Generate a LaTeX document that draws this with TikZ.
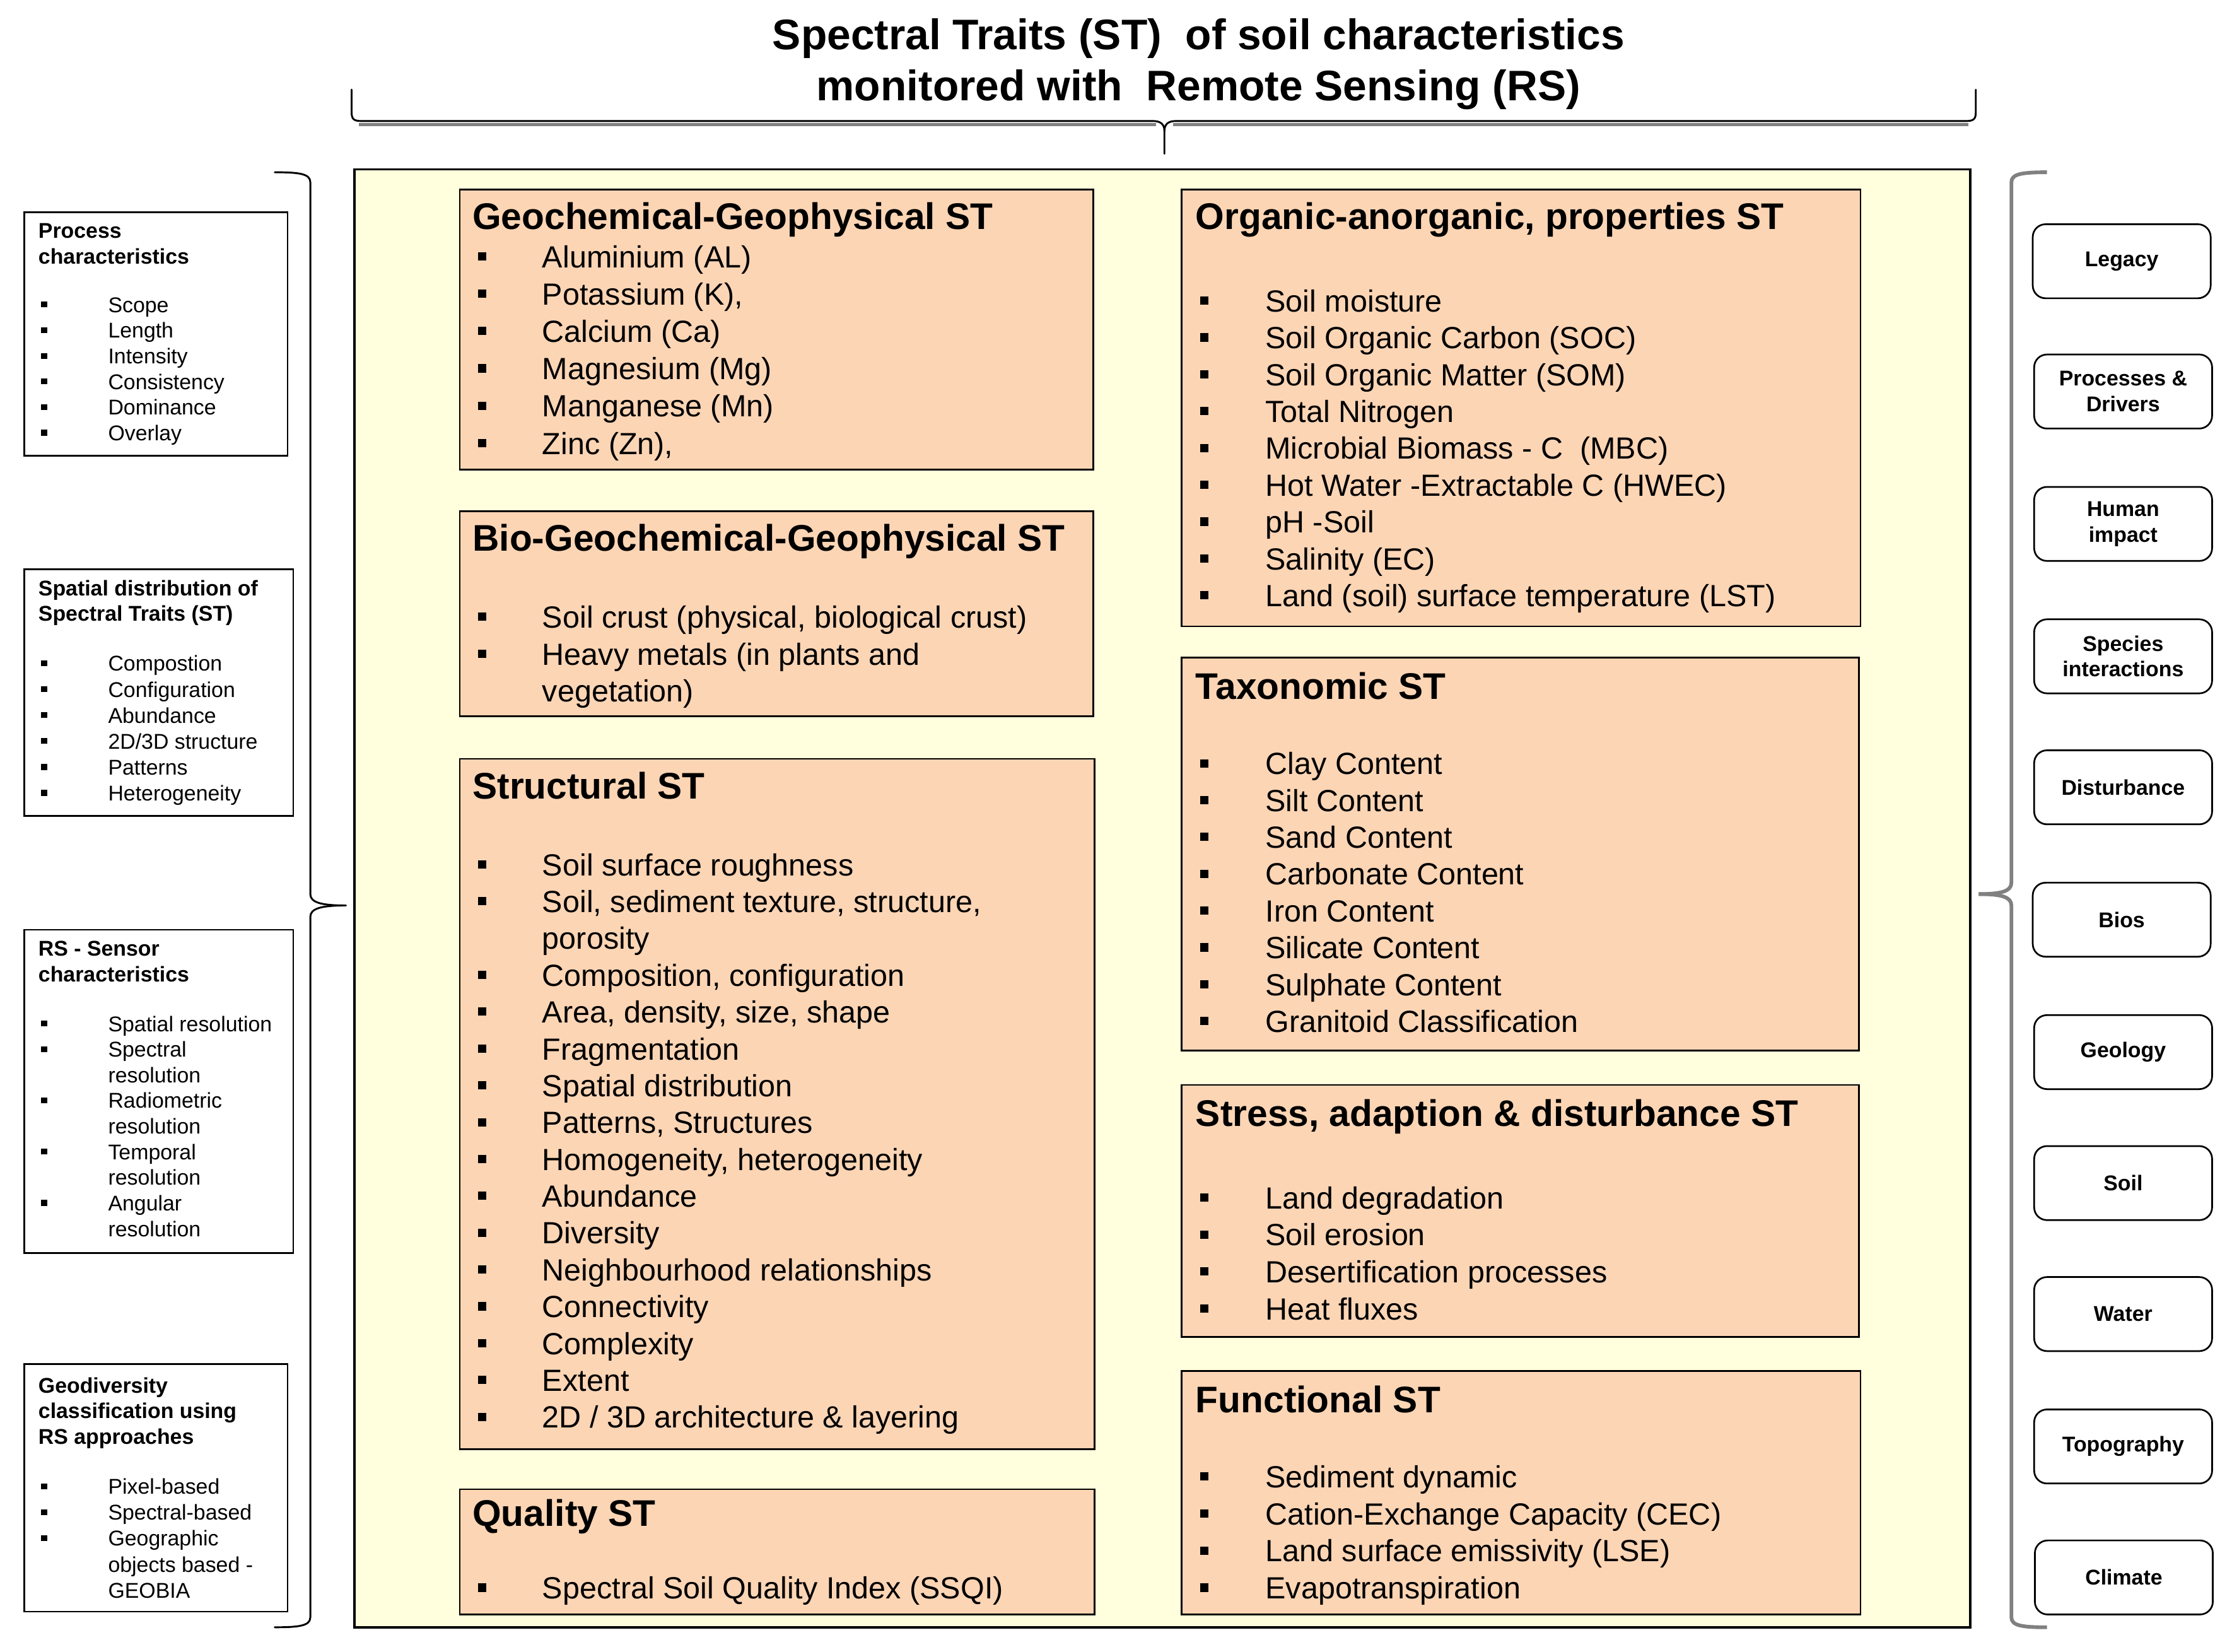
\documentclass[tikz,border=0pt]{standalone}
\usepackage{fontspec}
\setmainfont{Liberation Sans}
\definecolor{salmon}{RGB}{252,213,181}
\definecolor{paleyellow}{RGB}{255,255,221}
\definecolor{bracegray}{RGB}{128,128,128}
\newlength\bgap
\newcommand\bsq{\rule[0.23em]{0.27em}{0.27em}}
\newcommand\itm[1]{\hbox{\hbox to\bgap{\bsq\hfil}#1}}
\newcommand\cnt[1]{\hbox{\hskip\bgap #1}}
\newcommand\lns[2]{\vtop{\baselineskip=#1\lineskiplimit=-1000pt\lineskip=0pt #2}}
\newcommand\cln[1]{\hbox to 0pt{\hss #1\hss}}
\tikzset{
  salbox/.style={draw=black, line width=1.2pt, fill=salmon, inner sep=0pt, outer sep=0pt, anchor=north west},
  mainbox/.style={draw=black, line width=1.6pt, fill=paleyellow, inner sep=0pt, outer sep=0pt, anchor=north west},
  sidebox/.style={draw=black, line width=1.2pt, fill=white, inner sep=0pt, outer sep=0pt, anchor=north west},
  factor/.style={draw=black, line width=1.2pt, rounded corners=9pt, fill=white, inner sep=0pt,
     minimum width=125, minimum height=52, align=center, font=\fontsize{15}{18}\selectfont\bfseries},
  txt/.style={inner sep=0pt, outer sep=0pt, anchor=base west},
  hdr/.style={txt, font=\fontsize{26}{30}\selectfont\bfseries},
  itemtxt/.style={txt, font=\fontsize{21.5}{26}\selectfont\setlength\bgap{45pt}},
  itemtxtr/.style={txt, font=\fontsize{21.5}{26}\selectfont\setlength\bgap{46pt}},
  sidehdr/.style={txt, font=\fontsize{15}{18}\selectfont\bfseries},
  sideitm/.style={txt, font=\fontsize{15}{18}\selectfont\setlength\bgap{47pt}},
  brace/.style={line width=1.3pt, line cap=round, line join=round},
}
\begin{document}
\begin{tikzpicture}[x=1pt,y=-1pt]
\useasboundingbox (0,0) rectangle (1568,1160);

% ---------- title ----------
\node[inner sep=0pt, outer sep=0pt, anchor=base, font=\fontsize{30}{36}\selectfont\bfseries] (title) at (842,34.7)
  {\lns{36pt}{\cln{Spectral Traits (ST)\ \ of soil characteristics}\cln{monitored with\ \ Remote Sensing (RS)}}};

% top brace
\draw[bracegray, line width=2pt] (252,87.5) -- (812,87.5);
\draw[bracegray, line width=2pt] (824,87.5) -- (1383,87.5);
\draw[brace] (247,63) -- (247,79) .. controls (247,84) and (249,85) .. (254,85) -- (810,85)
   .. controls (815,85) and (818,87) .. (818,92) -- (818,108);
\draw[brace] (818,92) .. controls (818,87) and (821,85) .. (826,85) -- (1381,85)
   .. controls (1386,85) and (1388,84) .. (1388,79) -- (1388,63);

% ---------- main box ----------
\node[mainbox, minimum width=1135, minimum height=1024] (main) at (249,119) {};

% ---------- left braces ----------
\draw[brace] (193,121) .. controls (210,121) and (218,122) .. (218,128) -- (218,628)
   .. controls (218,634) and (226,636) .. (243,636);
\draw[brace] (243,636) .. controls (226,636) and (218,638) .. (218,644) -- (218,1136)
   .. controls (218,1142) and (210,1143) .. (193,1143);

% ---------- right brace ----------
\draw[bracegray, line width=2.6pt, line join=round] (1438,121) .. controls (1421,121) and (1413,122) .. (1413,128) -- (1413,620)
   .. controls (1413,626) and (1406,628) .. (1390,628);
\draw[bracegray, line width=2.6pt, line join=round] (1390,628) .. controls (1406,628) and (1413,630) .. (1413,636) -- (1413,1136)
   .. controls (1413,1142) and (1421,1143) .. (1438,1143);

% ---------- centre left column ----------
\node[salbox, minimum width=445, minimum height=197] (geo) at (323,133) {};
\node[hdr] (geoh) at (332,161) {Geochemical-Geophysical ST};
\node[itemtxt] (geol) at (336,188) {\lns{26.2pt}{\itm{Aluminium (AL)}\itm{Potassium (K),}\itm{Calcium (Ca)}\itm{Magnesium (Mg)}\itm{Manganese (Mn)}\itm{Zinc (Zn),}}};

\node[salbox, minimum width=445, minimum height=144] (bio) at (323,359) {};
\node[hdr] (bioh) at (332,387) {Bio-Geochemical-Geophysical ST};
\node[itemtxt] (biol) at (336,441) {\lns{26pt}{\itm{Soil crust (physical, biological crust)}\itm{Heavy metals (in plants and}\cnt{vegetation)}}};

\node[salbox, minimum width=446, minimum height=485] (str) at (323,533) {};
\node[hdr] (strh) at (332,561) {Structural ST};
\node[itemtxt] (strl) at (336,615) {\lns{25.87pt}{\itm{Soil surface roughness}\itm{Soil, sediment texture, structure,}\cnt{porosity}\itm{Composition, configuration}\itm{Area, density, size, shape}\itm{Fragmentation}\itm{Spatial distribution}\itm{Patterns, Structures}\itm{Homogeneity, heterogeneity}\itm{Abundance}\itm{Diversity}\itm{Neighbourhood relationships}\itm{Connectivity}\itm{Complexity}\itm{Extent}\itm{2D / 3D architecture \& layering}}};

\node[salbox, minimum width=446, minimum height=88] (qua) at (323,1046) {};
\node[hdr] (quah) at (332,1072) {Quality ST};
\node[itemtxt] (qual) at (336,1123) {\lns{26pt}{\itm{Spectral Soil Quality Index (SSQI)}}};

% ---------- centre right column ----------
\node[salbox, minimum width=477, minimum height=307] (org) at (830,133) {};
\node[hdr] (orgh) at (840,161) {Organic-anorganic, properties ST};
\node[itemtxtr] (orgl) at (843,219) {\lns{25.875pt}{\itm{Soil moisture}\itm{Soil Organic Carbon (SOC)}\itm{Soil Organic Matter (SOM)}\itm{Total Nitrogen}\itm{Microbial Biomass - C\ \ (MBC)}\itm{Hot Water -Extractable C (HWEC)}\itm{pH -Soil}\itm{Salinity (EC)}\itm{Land (soil) surface temperature (LST)}}};

\node[salbox, minimum width=476, minimum height=276] (tax) at (830,462) {};
\node[hdr] (taxh) at (840,491) {Taxonomic ST};
\node[itemtxtr] (taxl) at (843,544) {\lns{25.86pt}{\itm{Clay Content}\itm{Silt Content}\itm{Sand Content}\itm{Carbonate Content}\itm{Iron Content}\itm{Silicate Content}\itm{Sulphate Content}\itm{Granitoid Classification}}};

\node[salbox, minimum width=476, minimum height=177] (sad) at (830,762) {};
\node[hdr] (sadh) at (840,791) {Stress, adaption \& disturbance ST};
\node[itemtxtr] (sadl) at (843,849) {\lns{26pt}{\itm{Land degradation}\itm{Soil erosion}\itm{Desertification processes}\itm{Heat fluxes}}};

\node[salbox, minimum width=477, minimum height=171] (fun) at (830,963) {};
\node[hdr] (funh) at (840,992) {Functional ST};
\node[itemtxtr] (funl) at (843,1045) {\lns{26pt}{\itm{Sediment dynamic}\itm{Cation-Exchange Capacity (CEC)}\itm{Land surface emissivity (LSE)}\itm{Evapotranspiration}}};

% ---------- left side boxes ----------
\node[sidebox, minimum width=185, minimum height=171] (proc) at (17,149) {};
\node[sidehdr] (proch) at (27,167.4) {\lns{18pt}{\hbox{Process}\hbox{characteristics}}};
\node[sideitm] (procl) at (29,219.4) {\lns{18pt}{\itm{Scope}\itm{Length}\itm{Intensity}\itm{Consistency}\itm{Dominance}\itm{Overlay}}};

\node[sidebox, minimum width=189, minimum height=173] (spat) at (17,400) {};
\node[sidehdr] (spath) at (27,418.4) {\lns{18pt}{\hbox{Spatial distribution of}\hbox{Spectral Traits (ST)}}};
\node[sideitm] (spatl) at (29,471.4) {\lns{18.2pt}{\itm{Compostion}\itm{Configuration}\itm{Abundance}\itm{2D/3D structure}\itm{Patterns}\itm{Heterogeneity}}};

\node[sidebox, minimum width=189, minimum height=227] (sens) at (17,653) {};
\node[sidehdr] (sensh) at (27,671.4) {\lns{18pt}{\hbox{RS - Sensor}\hbox{characteristics}}};
\node[sideitm] (sensl) at (29,724.4) {\lns{18pt}{\itm{Spatial resolution}\itm{Spectral}\cnt{resolution}\itm{Radiometric}\cnt{resolution}\itm{Temporal}\cnt{resolution}\itm{Angular}\cnt{resolution}}};

\node[sidebox, minimum width=185, minimum height=174] (gdiv) at (17,958) {};
\node[sidehdr] (gdivh) at (27,978.4) {\lns{18pt}{\hbox{Geodiversity}\hbox{classification using}\hbox{RS approaches}}};
\node[sideitm] (gdivl) at (29,1049.4) {\lns{18.25pt}{\itm{Pixel-based}\itm{Spectral-based}\itm{Geographic}\cnt{objects based -}\cnt{GEOBIA}}};

% ---------- right side factors ----------
\node[factor] (f1) at (1490.5,183.5) {Legacy};
\node[factor] (f2) at (1491.5,275) {Processes \&\\Drivers};
\node[factor] (f3) at (1491.5,368) {Human\\impact};
\node[factor] (f4) at (1491.5,461) {Species\\interactions};
\node[factor] (f5) at (1491.5,553) {Disturbance};
\node[factor] (f6) at (1490.5,646) {Bios};
\node[factor] (f7) at (1491.5,739) {Geology};
\node[factor] (f8) at (1491.5,831) {Soil};
\node[factor] (f9) at (1491.5,923) {Water};
\node[factor] (f10) at (1491.5,1016) {Topography};
\node[factor] (f11) at (1492,1108) {Climate};
\end{tikzpicture}
\end{document}
